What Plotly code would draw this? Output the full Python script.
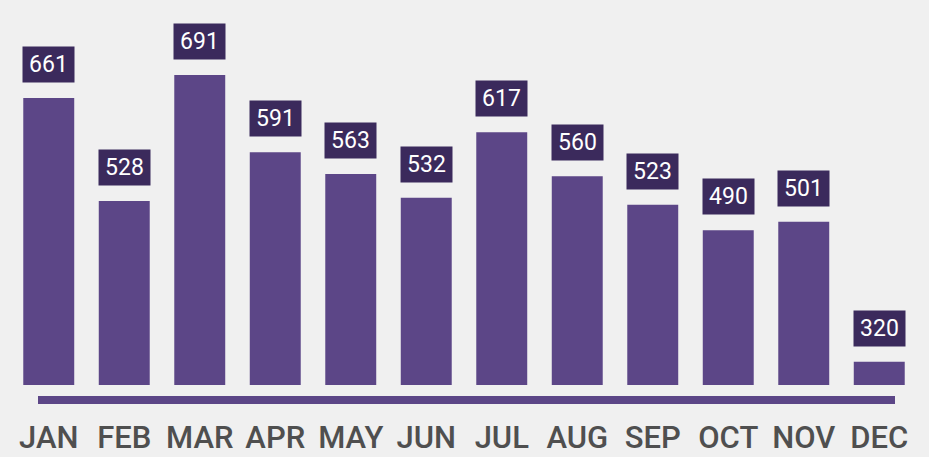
import plotly.graph_objects as go

months = ["JAN", "FEB", "MAR", "APR", "MAY", "JUN", "JUL", "AUG", "SEP", "OCT", "NOV", "DEC"]
values = [661, 528, 691, 591, 563, 532, 617, 560, 523, 490, 501, 320]

BAR = "#5c4687"
BOX = "#3b2a5c"
TXT = "#4f4f4f"
BG = "#f0f0f0"
FONT = "Roboto, Liberation Sans, sans-serif"

fig = go.Figure()
fig.add_trace(go.Bar(
    x=months, y=values, marker=dict(color=BAR, line=dict(width=0)),
    hoverinfo="skip",
))

for m, v in zip(months, values):
    fig.add_annotation(
        x=m, y=v, xref="x", yref="y", text=str(v), showarrow=False,
        yanchor="bottom", yshift=15, width=51, height=35,
        bgcolor=BOX, font=dict(family=FONT, size=23, color="white"),
        borderpad=0,
    )

fig.add_shape(type="rect", xref="paper", yref="paper",
              x0=(38 - 11) / 906, x1=(895 - 11) / 906,
              y0=-19 / 365, y1=-11 / 365,
              fillcolor=BAR, line=dict(width=0), layer="above")

fig.update_layout(
    width=929, height=457,
    margin=dict(l=11, r=12, t=20, b=72),
    paper_bgcolor=BG, plot_bgcolor="rgba(0,0,0,0)",
    bargap=0.325, showlegend=False,
    xaxis=dict(showgrid=False, zeroline=False, showline=False, ticks="",
               tickfont=dict(family=FONT, size=31, color=TXT, weight=500),
               ticklabelstandoff=31, automargin=False, fixedrange=True),
    yaxis=dict(range=[290, 762], visible=False, automargin=False, fixedrange=True),
)

fig.write_html("out.html", config={"displayModeBar": False},
               post_script="document.body.style.margin='0';")
